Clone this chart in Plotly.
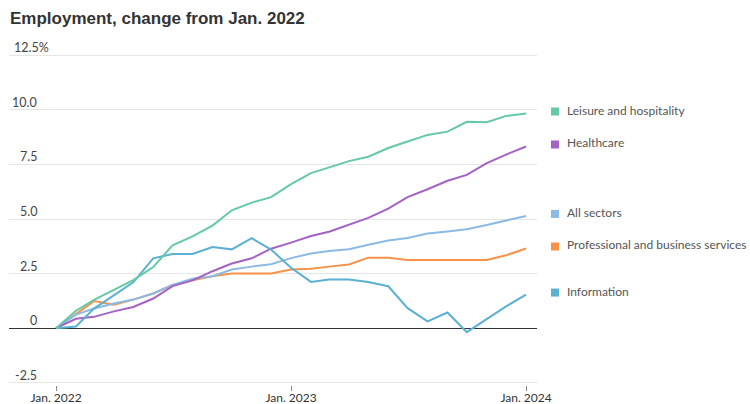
import plotly.graph_objects as go

# ---------------- data ----------------
months = [
    "2022-01-01", "2022-02-01", "2022-03-01", "2022-04-01", "2022-05-01", "2022-06-01",
    "2022-07-01", "2022-08-01", "2022-09-01", "2022-10-01", "2022-11-01", "2022-12-01",
    "2023-01-01", "2023-02-01", "2023-03-01", "2023-04-01", "2023-05-01", "2023-06-01",
    "2023-07-01", "2023-08-01", "2023-09-01", "2023-10-01", "2023-11-01", "2023-12-01",
    "2024-01-01",
]

leisure = [0, 0.8, 1.3, 1.75, 2.2, 2.8, 3.8, 4.2, 4.7, 5.4, 5.75, 6.0, 6.6,
           7.1, 7.35, 7.65, 7.85, 8.25, 8.55, 8.85, 9.0, 9.45, 9.43, 9.72, 9.83]
healthcare = [0, 0.43, 0.52, 0.77, 0.97, 1.36, 1.93, 2.19, 2.61, 2.96, 3.2, 3.64, 3.92,
              4.22, 4.42, 4.73, 5.05, 5.47, 6.0, 6.36, 6.75, 7.02, 7.56, 7.95, 8.32]
all_sectors = [0, 0.62, 0.9, 1.13, 1.31, 1.59, 1.98, 2.26, 2.38, 2.69, 2.82, 2.93, 3.21,
               3.42, 3.53, 3.62, 3.82, 4.02, 4.13, 4.34, 4.43, 4.53, 4.73, 4.94, 5.14]
professional = [0, 0.67, 1.24, 1.08, 1.31, 1.59, 1.98, 2.2, 2.38, 2.5, 2.51, 2.51, 2.69,
                2.72, 2.82, 2.92, 3.23, 3.23, 3.12, 3.12, 3.12, 3.12, 3.12, 3.34, 3.65]
information = [0, 0.08, 0.9, 1.5, 2.1, 3.2, 3.4, 3.4, 3.72, 3.61, 4.12, 3.6, 2.77,
               2.12, 2.23, 2.23, 2.12, 1.92, 0.92, 0.31, 0.72, -0.18, 0.42, 1.0, 1.54]

series_names = ["Professional and business services", "All sectors", "Healthcare",
                "Information", "Leisure and hospitality"]
series_values = [professional, all_sectors, healthcare, information, leisure]
series_colors = ["#f8924a", "#8bbae5", "#a462c4", "#5cb0d1", "#63c9a6"]

y_tick_vals = [-2.5, 0, 2.5, 5.0, 7.5, 10.0, 12.5]
y_tick_text = ["-2.5", "0", "2.5", "5.0", "7.5", "10.0", "12.5%"]
x_tick_vals = ["2022-01-01", "2023-01-01", "2024-01-01"]
x_tick_text = ["Jan. 2022", "Jan. 2023", "Jan. 2024"]

title_text = "Employment, change from Jan. 2022"

# ---------------- figure ----------------
W, H = 750, 404
ML, MR, MT, MB = 9, 213, 53, 19
plot_w = W - ML - MR

def px_to_paper_x(px):
    return (px - ML) / plot_w

fig = go.Figure()
for name, vals, col in zip(series_names, series_values, series_colors):
    fig.add_trace(go.Scatter(
        x=months, y=vals, mode="lines", name=name,
        line=dict(color=col, width=2), showlegend=False, hoverinfo="skip",
    ))

annotations = []
label_font = dict(family="Lato, 'Open Sans', sans-serif", size=12.5, color="#444444")
for v, t in zip(y_tick_vals, y_tick_text):
    last = t.endswith("%")
    annotations.append(dict(
        xref="paper", yref="y", x=px_to_paper_x(13 if last else 38), y=v, text=t,
        xanchor="left" if last else "right", yanchor="bottom", showarrow=False, borderpad=0,
        yshift=-1, font=label_font,
    ))

shapes = []
for name, vals, col in zip(series_names, series_values, series_colors):
    annotations.append(dict(
        xref="paper", yref="y", x=px_to_paper_x(566), y=vals[-1], text=name,
        xanchor="left", yanchor="middle", showarrow=False, borderpad=0,
        yshift=3.5, font=dict(family="Lato, 'Open Sans', sans-serif", size=12, color="#555555"),
    ))
    shapes.append(dict(
        type="rect", xref="paper", yref="y",
        xsizemode="pixel", ysizemode="pixel",
        xanchor=px_to_paper_x(555), yanchor=vals[-1],
        x0=-4, x1=4, y0=-2, y1=6,
        fillcolor=col, line=dict(width=0), layer="above",
    ))

fig.update_layout(
    width=W, height=H,
    margin=dict(l=ML, r=MR, t=MT, b=MB, pad=0),
    paper_bgcolor="white", plot_bgcolor="white",
    title=dict(
        text=title_text, xref="container", yref="container",
        x=10 / W, xanchor="left", y=1 - 18 / H, yanchor="middle",
        font=dict(family="'Liberation Sans', Arial, sans-serif", size=17, color="#333333", weight=700),
    ),
    xaxis=dict(
        type="date", range=["2021-10-20", "2024-01-18"],
        showgrid=False, zeroline=False, showline=False, automargin=False,
        tickvals=x_tick_vals, ticktext=x_tick_text,
        ticks="outside", ticklen=5, tickwidth=1, tickcolor="#888888",
        ticklabelstandoff=-3,
        tickfont=dict(family="Lato, 'Open Sans', sans-serif", size=12, color="#333333"),
    ),
    yaxis=dict(
        range=[-2.6, 12.6], tickvals=y_tick_vals, showticklabels=False,
        showgrid=True, gridcolor="#e6e6e6", gridwidth=1, automargin=False,
        zeroline=True, zerolinecolor="#333333", zerolinewidth=1.3,
        showline=False, ticks="",
    ),
    annotations=annotations,
    shapes=shapes,
)

fig.write_html(
    "out.html",
    config={"displayModeBar": False},
    post_script="document.body.style.margin='0';document.body.style.overflow='hidden';",
)
